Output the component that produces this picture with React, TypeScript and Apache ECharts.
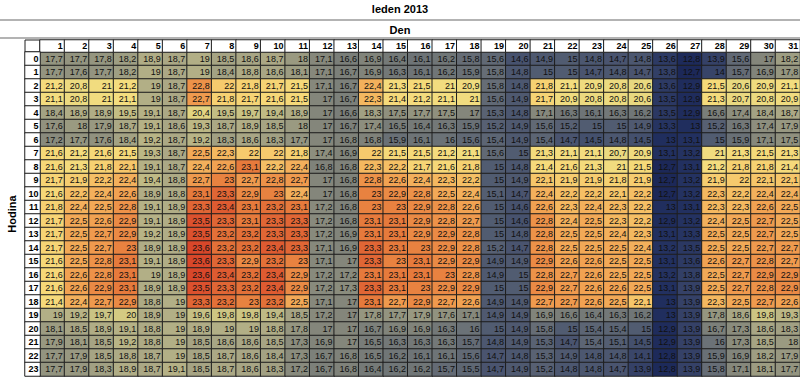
import React, { useEffect, useRef } from "react";
import * as echarts from "echarts";

const titleText = "leden 2013";
const xTitle = "Den";
const yTitle = "Hodina";

const days: number[] = Array.from({ length: 31 }, (_, i) => i + 1);
const hours: number[] = Array.from({ length: 24 }, (_, i) => i);

// temperature per hour (rows 0..23), per day (1..31)
const temperatureByHour: number[][] = [
  [17.7,17.7,17.8,18.2,18.9,18.7,19,18.5,18.6,18.7,18,17.1,16.6,16.9,16.4,16.1,16.2,15.8,15.6,14.6,14.9,15,14.8,14.7,14.8,13.6,12.8,13.9,15.6,17,18.2],
  [17.7,17.6,17.7,18.2,19,18.7,19,18.4,18.8,18.6,18.1,17.1,16.7,16.9,16.3,16.1,16.2,15.9,15.8,14.8,15,15,14.7,14.8,14.7,13.8,12.7,14,15.7,16.9,17.8],
  [21.2,20.8,21,21.2,19,18.7,22.8,22,21.8,21.7,21.5,17.1,16.7,22.4,21.3,21.5,21,20.9,15.8,14.8,21.8,21.1,20.9,20.8,20.6,13.6,12.9,21.5,20.6,20.9,21.1],
  [21.1,20.8,21,21.1,19,18.7,22.7,21.8,21.7,21.6,21.5,17,16.7,22.3,21.4,21.2,21.1,21,15.6,14.9,21.7,20.9,20.8,20.8,20.6,13.5,12.9,21.3,20.7,20.8,20.9],
  [18.4,18.9,18.9,19.5,19.1,18.7,20.4,19.5,19.7,19.4,18.9,17,16.6,18.3,17.5,17.7,17.5,17,15.3,14.8,17.1,16.3,16.1,16.3,16.2,13.5,12.9,16.6,17.4,18.4,18.7],
  [17.6,18,17.9,18.7,19.1,18.6,19.3,18.7,18.9,18.5,18,17,16.7,17.4,16.5,16.4,16.3,15.9,15.2,14.9,15.6,15.2,15,15,14.9,13.3,13,15.2,16.3,17.4,17.9],
  [17.2,17.7,17.6,18.4,19.2,18.7,19.2,18.3,18.6,18.3,17.7,17,16.8,16.8,15.9,16.1,16,15.6,15.4,14.9,15.4,14.7,14.5,14.8,14.5,13,13.1,15,15.9,17.1,17.5],
  [21.6,21.2,21.6,21.5,19.3,18.7,22.5,22.3,22,22,21.8,17.4,16.9,22,21.5,21.5,21.2,21.1,15.6,15,21.3,21.1,21.1,20.7,20.9,13.1,13.2,21,21.3,21.5,21.3],
  [21.6,21.3,21.8,22.1,19.1,18.7,22.4,22.6,23.1,22.2,22.4,16.8,16.8,22.3,22.2,21.7,21.6,21.8,15,14.8,21.4,21.6,21.3,21,21.5,12.7,13.1,21.2,21.8,21.8,21.4],
  [21.7,21.9,22.2,22.4,19.4,18.8,22.7,23,22.7,22.8,22.7,17,16.8,22.8,22.6,22.4,22.3,22.2,15,14.9,22.1,21.9,21.9,21.8,21.9,12.7,13.2,21.9,22,22.1,22.1],
  [21.6,22.2,22.4,22.6,18.9,18.8,23.1,23.3,22.9,23,22.4,17,16.8,23,22.9,22.8,22.5,22.4,15.1,14.7,22.4,22.2,22.2,22.1,22.2,12.7,13.2,22.3,22.2,22.4,22.4],
  [21.8,22.4,22.5,22.8,19.1,18.9,23.3,23.4,23.1,23.2,23.1,17.2,16.8,23,23,22.9,22.8,22.6,15,14.6,22.6,22.3,22.4,22.3,22.2,13,13.1,22.3,22.3,22.6,22.5],
  [21.7,22.5,22.6,22.9,19.1,18.9,23.5,23.3,23.1,23.3,23.3,17.2,16.8,23.1,23.1,22.9,22.8,22.7,15,14.6,22.8,22.4,22.5,22.3,22.2,12.9,13.2,22.4,22.5,22.7,22.5],
  [21.7,22.5,22.7,22.9,19.2,18.9,23.5,23.2,23.2,23.3,23.3,17.2,16.9,23.1,23.1,22.9,22.9,22.8,15,14.8,22.8,22.5,22.5,22.4,22.3,13.1,13.3,22.5,22.5,22.7,22.5],
  [21.7,22.5,22.7,23,18.9,18.9,23.6,23.2,23.2,23.4,23.3,17.1,16.9,23.3,23.1,23,22.9,22.8,15.2,14.7,22.8,22.5,22.5,22.5,22.4,13.2,13.5,22.5,22.5,22.7,22.7],
  [21.6,22.5,22.8,23.1,19.1,18.9,23.6,23.3,22.9,23.2,23,17.1,17,23.3,23,23.1,22.9,22.9,14.9,14.9,22.9,22.6,22.6,22.5,22.5,13.1,13.6,22.6,22.7,22.8,22.7],
  [21.6,22.6,22.8,23.1,19,18.9,23.6,23.4,23.2,23.4,22.9,17.2,17.2,23.1,23.1,23.1,23,22.8,14.9,15,22.8,22.7,22.6,22.5,22.5,13.2,13.8,22.5,22.7,22.9,22.9],
  [21.6,22.6,22.9,23.1,18.9,18.9,23.5,23.3,23.2,23.4,22.9,17.2,17.3,23.3,23.1,23,22.9,22.9,15,15,22.9,22.7,22.6,22.6,22.5,13.1,13.9,22.5,22.7,22.8,22.9],
  [21.4,22.4,22.7,22.9,18.8,19,23.3,23.2,23,23.2,22.5,17.1,17,23.1,22.7,22.9,22.7,22.6,14.9,14.9,22.7,22.7,22.6,22.5,22.1,13,13.9,22.3,22.5,22.7,22.6],
  [19,19.2,19.7,20,18.9,19,19.6,19.8,19.8,19.4,18.5,17.2,17,17.8,17.7,17.9,17.6,17.1,14.9,14.9,16.9,16.6,16.4,16.3,16.2,13,13.9,17.8,18.6,19.8,19.3],
  [18.1,18.5,18.9,19.1,18.8,19,18.9,19,19,18.8,17.8,17,17,16.7,16.9,16.9,16.3,16,15,14.9,15.8,15,15.4,15.4,15,12.9,13.9,16.7,17.3,18.6,18.3],
  [17.9,18.1,18.5,19.2,18.8,19,18.5,18.6,18.6,18.5,17.3,16.9,17,16.5,16.3,16.3,16.3,15.7,14.8,14.9,15.3,14.7,15.4,15.1,14.5,12.9,13.9,16,17.3,18.5,18],
  [17.7,17.9,18.5,18.8,18.7,19,18.5,18.7,18.6,18.4,17.3,16.7,16.8,16.5,16.2,16.1,16.1,15.6,14.7,14.8,15.3,14.9,14.8,14.8,14.1,12.8,13.9,15.9,16.9,18.2,17.9],
  [17.7,17.9,18.3,18.9,18.7,19.1,18.5,18.7,18.6,18.3,17.2,16.7,16.8,16.4,16.2,16.2,15.7,15.5,14.7,14.9,15.2,14.8,14.8,14.7,13.9,12.8,13.9,15.8,17.1,18.1,17.7],
];

const colorScale = [
  "#1a2656", "#223060", "#2d3a64", "#3a4669", "#47526e", "#545e72",
  "#616975", "#6e7477", "#7a7e79", "#86887c", "#91927f", "#9c9c82",
  "#a8a685", "#b5b186", "#c6c084", "#d8cd82", "#e8d880", "#f3dd7f",
  "#f6d878", "#f6c66a", "#f1a252", "#e67a3c", "#d8472a",
];

const FONT = "'Liberation Sans', Arial, sans-serif";

export default function App() {
  const ref = useRef<HTMLDivElement>(null);

  useEffect(() => {
    if (!ref.current) return;
    const chart = echarts.init(ref.current, null, { renderer: "svg" });

    const cells: [number, number, number][] = [];
    temperatureByHour.forEach((row, h) => {
      row.forEach((v, d) => cells.push([d, h, v]));
    });

    const gridLeft = 40;
    const gridTop = 52;
    const gridHeight = 324;

    chart.setOption({
      animation: false,
      backgroundColor: "#ffffff",
      textStyle: { fontFamily: FONT },
      grid: [
        { left: gridLeft, right: 0, top: gridTop, height: gridHeight },
        { left: gridLeft, right: 0, top: 40, height: 12 },
        { left: 25, width: 15, top: gridTop, height: gridHeight },
      ],
      xAxis: [
        { type: "category", data: days, gridIndex: 0, show: false },
        { type: "category", data: days, gridIndex: 1, show: false },
        { type: "category", data: ["h"], gridIndex: 2, show: false },
      ],
      yAxis: [
        { type: "category", data: hours, gridIndex: 0, inverse: true, show: false },
        { type: "category", data: ["d"], gridIndex: 1, show: false },
        { type: "category", data: hours, gridIndex: 2, inverse: true, show: false },
      ],
      visualMap: [
        {
          type: "continuous",
          show: false,
          seriesIndex: 0,
          dimension: 2,
          min: 12.6,
          max: 23.6,
          inRange: { color: colorScale },
        },
        {
          type: "continuous",
          show: false,
          seriesIndex: [1, 2],
          dimension: 2,
          min: 0,
          max: 31,
          inRange: { color: ["#ffffff", "#ffffff"] },
        },
      ],
      series: [
        {
          type: "heatmap",
          xAxisIndex: 0,
          yAxisIndex: 0,
          data: cells,
          itemStyle: { borderColor: "#1e1e1e", borderWidth: 1 },
          label: {
            show: true,
            formatter: (p: any) => "{v|" + String(p.value[2]).replace(".", ",") + "}",
            rich: {
              v: {
                width: 21,
                align: "right",
                fontSize: 9,
                fontFamily: FONT,
                color: "#111",
              },
            },
          },
          emphasis: { disabled: true },
        },
        {
          type: "heatmap",
          xAxisIndex: 1,
          yAxisIndex: 1,
          data: days.map((d, i) => [i, 0, d]),
          itemStyle: { borderColor: "#1e1e1e", borderWidth: 1 },
          label: {
            show: true,
            formatter: (p: any) => "{v|" + p.value[2] + "}",
            rich: {
              v: {
                width: 21,
                align: "right",
                fontSize: 9,
                fontWeight: "bold",
                fontFamily: FONT,
                color: "#000",
              },
            },
          },
          emphasis: { disabled: true },
        },
        {
          type: "heatmap",
          xAxisIndex: 2,
          yAxisIndex: 2,
          data: hours.map((h, i) => [0, i, h]),
          itemStyle: { borderColor: "#1e1e1e", borderWidth: 1 },
          label: {
            show: true,
            formatter: (p: any) => "{v|" + p.value[2] + "}",
            rich: {
              v: {
                width: 12,
                align: "right",
                fontSize: 9,
                fontWeight: "bold",
                fontFamily: FONT,
                color: "#000",
              },
            },
          },
          emphasis: { disabled: true },
        },
      ],
      graphic: [
        {
          type: "text",
          left: "center",
          top: 3,
          style: { text: titleText, font: `bold 11px ${FONT}`, fill: "#000" },
        },
        {
          type: "line",
          shape: { x1: 0, y1: 20, x2: 800, y2: 20 },
          style: { stroke: "#9a9a9a", lineWidth: 1.5 },
        },
        {
          type: "text",
          left: "center",
          top: 24,
          style: { text: xTitle, font: `bold 11px ${FONT}`, fill: "#000" },
        },
        {
          type: "line",
          shape: { x1: 0, y1: 38, x2: 800, y2: 38 },
          style: { stroke: "#9a9a9a", lineWidth: 1.5 },
        },
        {
          type: "rect",
          shape: { x: 25, y: 40, width: 15, height: 12 },
          style: { fill: "#ffffff", stroke: "#1e1e1e", lineWidth: 1 },
        },
        {
          type: "text",
          x: 12,
          y: 214,
          rotation: Math.PI / 2,
          style: {
            text: yTitle,
            font: `bold 11px ${FONT}`,
            fill: "#000",
            align: "center",
            verticalAlign: "middle",
          },
        },
      ],
    });

    return () => chart.dispose();
  }, []);

  return (
    <div
      ref={ref}
      style={{ position: "fixed", left: 0, top: 0, width: 800, height: 377 }}
    />
  );
}
